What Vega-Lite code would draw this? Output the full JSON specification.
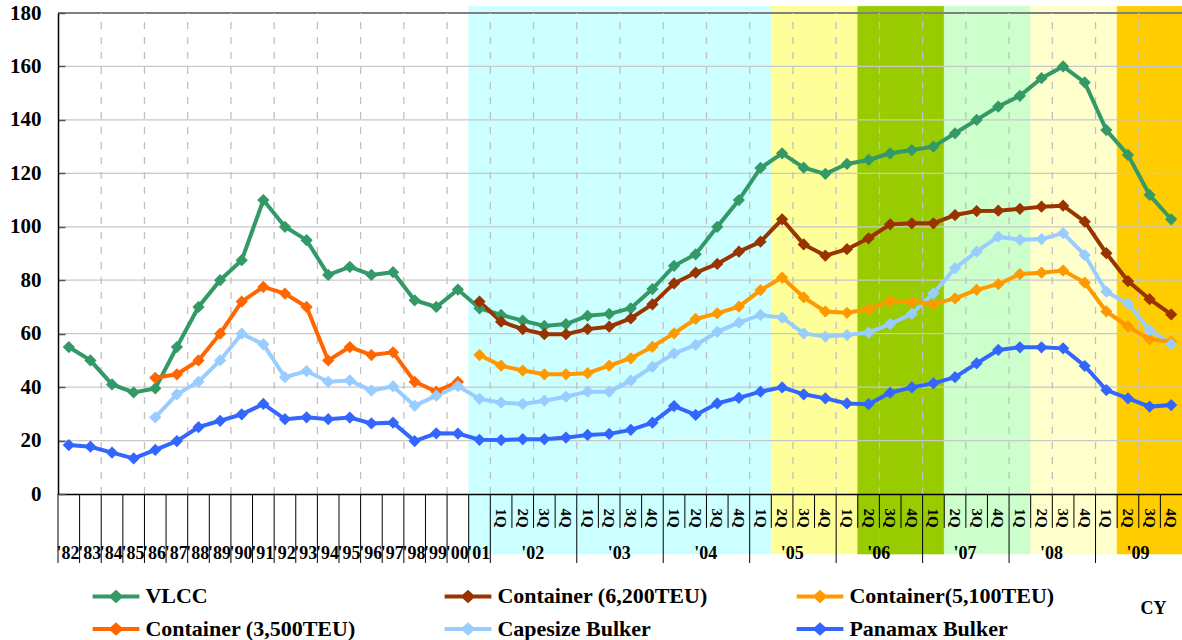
{
  "$schema": "https://vega.github.io/schema/vega-lite/v6.json",
  "autosize": {"type": "none"},
  "padding": {"left": 58, "top": 13, "right": 0, "bottom": 146},
  "width": 1124,
  "height": 481,
  "background": "white",
  "config": {"view": {"stroke": null}, "axis": {"grid": false}},
  "datasets": {
    "periods": [
      {"p": "1982", "VLCC": 55, "Panamax Bulker": 18.3},
      {"p": "1983", "VLCC": 50, "Panamax Bulker": 17.7},
      {"p": "1984", "VLCC": 41, "Panamax Bulker": 15.5},
      {"p": "1985", "VLCC": 38, "Panamax Bulker": 13.3},
      {"p": "1986", "VLCC": 39.5, "Container (3,500TEU)": 43.5, "Capesize Bulker": 28.7, "Panamax Bulker": 16.5},
      {"p": "1987", "VLCC": 55, "Container (3,500TEU)": 44.8, "Capesize Bulker": 37.3, "Panamax Bulker": 19.8},
      {"p": "1988", "VLCC": 70, "Container (3,500TEU)": 50, "Capesize Bulker": 42, "Panamax Bulker": 25},
      {"p": "1989", "VLCC": 80, "Container (3,500TEU)": 60, "Capesize Bulker": 50, "Panamax Bulker": 27.4},
      {"p": "1990", "VLCC": 87.5, "Container (3,500TEU)": 72, "Capesize Bulker": 60, "Panamax Bulker": 29.8},
      {"p": "1991", "VLCC": 110, "Container (3,500TEU)": 77.5, "Capesize Bulker": 56, "Panamax Bulker": 33.7},
      {"p": "1992", "VLCC": 100, "Container (3,500TEU)": 75, "Capesize Bulker": 43.7, "Panamax Bulker": 28},
      {"p": "1993", "VLCC": 95, "Container (3,500TEU)": 70, "Capesize Bulker": 46, "Panamax Bulker": 28.7},
      {"p": "1994", "VLCC": 82, "Container (3,500TEU)": 50, "Capesize Bulker": 42, "Panamax Bulker": 28},
      {"p": "1995", "VLCC": 85, "Container (3,500TEU)": 55, "Capesize Bulker": 42.5, "Panamax Bulker": 28.6},
      {"p": "1996", "VLCC": 82, "Container (3,500TEU)": 52, "Capesize Bulker": 38.7, "Panamax Bulker": 26.4},
      {"p": "1997", "VLCC": 83, "Container (3,500TEU)": 53, "Capesize Bulker": 40.3, "Panamax Bulker": 26.7},
      {"p": "1998", "VLCC": 72.5, "Container (3,500TEU)": 42, "Capesize Bulker": 33, "Panamax Bulker": 19.8},
      {"p": "1999", "VLCC": 70, "Container (3,500TEU)": 38.3, "Capesize Bulker": 36.8, "Panamax Bulker": 22.7},
      {"p": "2000", "VLCC": 76.5, "Container (3,500TEU)": 42, "Capesize Bulker": 40.4, "Panamax Bulker": 22.6},
      {"p": "2001", "fy": "FY2001-04", "VLCC": 69.5, "Container (6,200TEU)": 72, "Container(5,100TEU)": 52, "Capesize Bulker": 35.6, "Panamax Bulker": 20.3},
      {"p": "2002-1Q", "q": "1Q", "fy": "FY2001-04", "VLCC": 67, "Container (6,200TEU)": 64.5, "Container(5,100TEU)": 48, "Capesize Bulker": 34.2, "Panamax Bulker": 20.2},
      {"p": "2002-2Q", "q": "2Q", "fy": "FY2001-04", "VLCC": 64.9, "Container (6,200TEU)": 61.7, "Container(5,100TEU)": 46.2, "Capesize Bulker": 33.7, "Panamax Bulker": 20.5},
      {"p": "2002-3Q", "q": "3Q", "fy": "FY2001-04", "VLCC": 62.9, "Container (6,200TEU)": 59.8, "Container(5,100TEU)": 44.8, "Capesize Bulker": 34.9, "Panamax Bulker": 20.5},
      {"p": "2002-4Q", "q": "4Q", "fy": "FY2001-04", "VLCC": 63.6, "Container (6,200TEU)": 59.8, "Container(5,100TEU)": 44.8, "Capesize Bulker": 36.4, "Panamax Bulker": 21.1},
      {"p": "2003-1Q", "q": "1Q", "fy": "FY2001-04", "VLCC": 66.7, "Container (6,200TEU)": 61.7, "Container(5,100TEU)": 45.2, "Capesize Bulker": 38.3, "Panamax Bulker": 22.1},
      {"p": "2003-2Q", "q": "2Q", "fy": "FY2001-04", "VLCC": 67.4, "Container (6,200TEU)": 62.6, "Container(5,100TEU)": 48, "Capesize Bulker": 38.3, "Panamax Bulker": 22.5},
      {"p": "2003-3Q", "q": "3Q", "fy": "FY2001-04", "VLCC": 69.5, "Container (6,200TEU)": 65.7, "Container(5,100TEU)": 50.8, "Capesize Bulker": 42.4, "Panamax Bulker": 24},
      {"p": "2003-4Q", "q": "4Q", "fy": "FY2001-04", "VLCC": 76.7, "Container (6,200TEU)": 71, "Container(5,100TEU)": 55.1, "Capesize Bulker": 47.6, "Panamax Bulker": 26.7},
      {"p": "2004-1Q", "q": "1Q", "fy": "FY2001-04", "VLCC": 85.4, "Container (6,200TEU)": 78.8, "Container(5,100TEU)": 60.1, "Capesize Bulker": 52.6, "Panamax Bulker": 32.9},
      {"p": "2004-2Q", "q": "2Q", "fy": "FY2001-04", "VLCC": 89.7, "Container (6,200TEU)": 82.8, "Container(5,100TEU)": 65.5, "Capesize Bulker": 55.8, "Panamax Bulker": 29.6},
      {"p": "2004-3Q", "q": "3Q", "fy": "FY2001-04", "VLCC": 100, "Container (6,200TEU)": 86.1, "Container(5,100TEU)": 67.6, "Capesize Bulker": 60.7, "Panamax Bulker": 33.9},
      {"p": "2004-4Q", "q": "4Q", "fy": "FY2001-04", "VLCC": 110, "Container (6,200TEU)": 90.7, "Container(5,100TEU)": 70.1, "Capesize Bulker": 64.1, "Panamax Bulker": 36},
      {"p": "2005-1Q", "q": "1Q", "fy": "FY2001-04", "VLCC": 122, "Container (6,200TEU)": 94.4, "Container(5,100TEU)": 76.3, "Capesize Bulker": 67, "Panamax Bulker": 38.3},
      {"p": "2005-2Q", "q": "2Q", "fy": "FY2005", "VLCC": 127.5, "Container (6,200TEU)": 102.8, "Container(5,100TEU)": 81, "Capesize Bulker": 66, "Panamax Bulker": 39.9},
      {"p": "2005-3Q", "q": "3Q", "fy": "FY2005", "VLCC": 122.1, "Container (6,200TEU)": 93.4, "Container(5,100TEU)": 73.6, "Capesize Bulker": 60.1, "Panamax Bulker": 37.3},
      {"p": "2005-4Q", "q": "4Q", "fy": "FY2005", "VLCC": 119.8, "Container (6,200TEU)": 89.2, "Container(5,100TEU)": 68.3, "Capesize Bulker": 58.9, "Panamax Bulker": 35.8},
      {"p": "2006-1Q", "q": "1Q", "fy": "FY2005", "VLCC": 123.5, "Container (6,200TEU)": 91.6, "Container(5,100TEU)": 67.8, "Capesize Bulker": 59.5, "Panamax Bulker": 33.9},
      {"p": "2006-2Q", "q": "2Q", "fy": "FY2006", "VLCC": 125, "Container (6,200TEU)": 95.7, "Container(5,100TEU)": 69.1, "Capesize Bulker": 60.4, "Panamax Bulker": 33.6},
      {"p": "2006-3Q", "q": "3Q", "fy": "FY2006", "VLCC": 127.5, "Container (6,200TEU)": 100.9, "Container(5,100TEU)": 72.3, "Capesize Bulker": 63.6, "Panamax Bulker": 37.9},
      {"p": "2006-4Q", "q": "4Q", "fy": "FY2006", "VLCC": 128.7, "Container (6,200TEU)": 101.3, "Container(5,100TEU)": 71.9, "Capesize Bulker": 67.4, "Panamax Bulker": 39.9},
      {"p": "2007-1Q", "q": "1Q", "fy": "FY2006", "VLCC": 130, "Container (6,200TEU)": 101.3, "Container(5,100TEU)": 71.1, "Capesize Bulker": 75.1, "Panamax Bulker": 41.4},
      {"p": "2007-2Q", "q": "2Q", "fy": "FY2007", "VLCC": 135, "Container (6,200TEU)": 104.4, "Container(5,100TEU)": 73.2, "Capesize Bulker": 84.5, "Panamax Bulker": 43.7},
      {"p": "2007-3Q", "q": "3Q", "fy": "FY2007", "VLCC": 140, "Container (6,200TEU)": 105.9, "Container(5,100TEU)": 76.4, "Capesize Bulker": 90.7, "Panamax Bulker": 48.9},
      {"p": "2007-4Q", "q": "4Q", "fy": "FY2007", "VLCC": 145, "Container (6,200TEU)": 106, "Container(5,100TEU)": 78.5, "Capesize Bulker": 96.3, "Panamax Bulker": 53.9},
      {"p": "2008-1Q", "q": "1Q", "fy": "FY2007", "VLCC": 149, "Container (6,200TEU)": 106.7, "Container(5,100TEU)": 82.3, "Capesize Bulker": 95.1, "Panamax Bulker": 54.9},
      {"p": "2008-2Q", "q": "2Q", "fy": "FY2008", "VLCC": 155.6, "Container (6,200TEU)": 107.5, "Container(5,100TEU)": 82.8, "Capesize Bulker": 95.4, "Panamax Bulker": 54.9},
      {"p": "2008-3Q", "q": "3Q", "fy": "FY2008", "VLCC": 160, "Container (6,200TEU)": 107.9, "Container(5,100TEU)": 83.6, "Capesize Bulker": 97.6, "Panamax Bulker": 54.5},
      {"p": "2008-4Q", "q": "4Q", "fy": "FY2008", "VLCC": 154, "Container (6,200TEU)": 101.9, "Container(5,100TEU)": 79.1, "Capesize Bulker": 89.4, "Panamax Bulker": 47.9},
      {"p": "2009-1Q", "q": "1Q", "fy": "FY2008", "VLCC": 136.2, "Container (6,200TEU)": 90.1, "Container(5,100TEU)": 68.3, "Capesize Bulker": 75.7, "Panamax Bulker": 38.9},
      {"p": "2009-2Q", "q": "2Q", "fy": "FY2009", "VLCC": 126.9, "Container (6,200TEU)": 79.7, "Container(5,100TEU)": 62.7, "Capesize Bulker": 71.2, "Panamax Bulker": 35.8},
      {"p": "2009-3Q", "q": "3Q", "fy": "FY2009", "VLCC": 111.9, "Container (6,200TEU)": 72.9, "Container(5,100TEU)": 57.9, "Capesize Bulker": 61.4, "Panamax Bulker": 32.7},
      {"p": "2009-4Q", "q": "4Q", "fy": "FY2009", "VLCC": 102.8, "Container (6,200TEU)": 67.2, "Container(5,100TEU)": 57, "Capesize Bulker": 56.1, "Panamax Bulker": 33.3}
    ]
  },
  "data": {"name": "periods"},
  "layer": [
    {
      "transform": [{"filter": "isValid(datum.fy)"}],
      "mark": {"type": "bar", "strokeWidth": 0.6},
      "encoding": {
        "x": {"field": "p", "type": "ordinal", "title": null, "scale": {"type": "band", "paddingInner": 0, "paddingOuter": 0}},
        "y": {"datum": -22.45},
        "y2": {"datum": 182.5},
        "fill": {"field": "fy", "type": "nominal", "legend": null,
          "scale": {"domain": ["FY2001-04", "FY2005", "FY2006", "FY2007", "FY2008", "FY2009"],
                    "range": ["#CCFFFF", "#FFFF99", "#99CC00", "#CCFFCC", "#FFFFCC", "#FFCC00"]}},
        "stroke": {"field": "fy", "type": "nominal", "legend": null,
          "scale": {"domain": ["FY2001-04", "FY2005", "FY2006", "FY2007", "FY2008", "FY2009"],
                    "range": ["#CCFFFF", "#FFFF99", "#99CC00", "#CCFFCC", "#FFFFCC", "#FFCC00"]}}
      }
    },
    {
      "data": {"values": [{"level": 20}, {"level": 40}, {"level": 60}, {"level": 80}, {"level": 100}, {"level": 120}, {"level": 140}, {"level": 160}]},
      "mark": {"type": "rule", "color": "#C8C8C8", "strokeWidth": 1.2},
      "encoding": {"y": {"field": "level", "type": "quantitative", "title": null}}
    },
    {
      "mark": {"type": "rule", "color": "#808080", "strokeWidth": 2},
      "encoding": {"y": {"datum": 180}}
    },
    {
      "transform": [
        {"window": [{"op": "row_number", "as": "n"}], "sort": [{"field": "p"}]},
        {"filter": "datum.n % 2 == 1 && datum.n >= 3"}
      ],
      "mark": {"type": "rule", "color": "#C0C0C0", "strokeWidth": 1.3, "strokeDash": [7, 8]},
      "encoding": {
        "x": {"field": "p", "type": "ordinal", "bandPosition": 0, "title": null},
        "y": {"datum": 0},
        "y2": {"datum": 180}
      }
    },
    {
      "transform": [
        {"fold": ["VLCC", "Container (6,200TEU)", "Container(5,100TEU)", "Container (3,500TEU)", "Capesize Bulker", "Panamax Bulker"], "as": ["series", "value"]},
        {"filter": "isValid(datum.value)"}
      ],
      "mark": {"type": "line", "strokeWidth": 4, "point": {"shape": "diamond", "size": 150, "filled": true, "opacity": 1}},
      "encoding": {
        "x": {"field": "p", "type": "ordinal", "bandPosition": 0.5, "title": null,
          "axis": {"orient": "bottom", "zindex": 1, "grid": false, "domainColor": "black", "domainWidth": 1.5, "ticks": false,
            "labelAngle": 0, "labelFont": "Liberation Serif", "labelFontWeight": "bold", "labelFontSize": 18, "labelColor": "black",
            "labelPadding": 50, "labelOverlap": false, "labelBound": false, "labelFlush": false, "labelBaseline": "top",
            "labelExpr": "length(datum.value) == 4 ? \"'\" + substring(datum.value, 2, 4) : (substring(datum.value, 5) == '2Q' ? \"'\" + substring(datum.value, 2, 4) : '')",
            "labelOffset": {"condition": {"test": "substring(datum.value, 5) == '2Q'", "value": 21.6}, "value": 10.8}}},
        "y": {"field": "value", "type": "quantitative", "title": null,
          "scale": {"domain": [0, 180], "nice": false, "zero": true},
          "axis": {"zindex": 1, "grid": false, "values": [0, 20, 40, 60, 80, 100, 120, 140, 160, 180],
            "domainColor": "black", "domainWidth": 1.5, "tickSize": -7, "tickColor": "#555555", "tickWidth": 1.5,
            "labelFont": "Liberation Serif", "labelFontWeight": "bold", "labelFontSize": 21, "labelColor": "black", "labelPadding": 24}},
        "color": {"field": "series", "type": "nominal",
          "scale": {"domain": ["VLCC", "Container (6,200TEU)", "Container(5,100TEU)", "Container (3,500TEU)", "Capesize Bulker", "Panamax Bulker"],
                    "range": ["#339966", "#993300", "#FF9900", "#FF6600", "#99CCFF", "#3366FF"]},
          "legend": {"title": null, "orient": "none", "legendX": 47, "legendY": 572, "direction": "horizontal", "columns": 3,
            "gridAlign": "all", "columnPadding": 80, "rowPadding": 7,
            "symbolType": "M-2.6,0H2.6M0,-0.45L0.5,0L0,0.45L-0.5,0Z", "symbolSize": 324, "symbolStrokeWidth": 4,
            "labelFont": "Liberation Serif", "labelFontWeight": "bold", "labelFontSize": 22, "labelColor": "black",
            "labelOffset": 18.4, "labelLimit": 400,
            "encode": {"symbols": {"update": {"fill": {"scale": "color", "field": "value"}, "stroke": {"scale": "color", "field": "value"}, "opacity": {"value": 1}}}}}}
      }
    },
    {
      "transform": [{"filter": "length(datum.p) == 4 || datum.q == '1Q'"}],
      "mark": {"type": "rule", "color": "black", "strokeWidth": 1},
      "encoding": {
        "x": {"field": "p", "type": "ordinal", "bandPosition": 0, "title": null},
        "y": {"datum": 0},
        "y2": {"datum": -25.8}
      }
    },
    {
      "transform": [{"filter": "datum.q == '2Q' || datum.q == '3Q' || datum.q == '4Q'"}],
      "mark": {"type": "rule", "color": "black", "strokeWidth": 1},
      "encoding": {
        "x": {"field": "p", "type": "ordinal", "bandPosition": 0, "title": null},
        "y": {"datum": 0},
        "y2": {"datum": -12.7}
      }
    },
    {
      "transform": [{"filter": "isValid(datum.q)"}],
      "mark": {"type": "text", "angle": 90, "align": "center", "baseline": "middle", "font": "Liberation Serif", "fontWeight": "bold", "fontSize": 15, "color": "black"},
      "encoding": {
        "x": {"field": "p", "type": "ordinal", "bandPosition": 0.5, "title": null},
        "y": {"datum": -9.0},
        "text": {"field": "q"}
      }
    },
    {
      "data": {"values": [{"label": "CY"}]},
      "mark": {"type": "text", "align": "center", "baseline": "middle", "font": "Liberation Serif", "fontWeight": "bold", "fontSize": 18, "color": "black", "dx": 4},
      "encoding": {
        "x": {"datum": "2009-3Q", "type": "ordinal"},
        "y": {"datum": -43.2},
        "text": {"field": "label"}
      }
    }
  ]
}
